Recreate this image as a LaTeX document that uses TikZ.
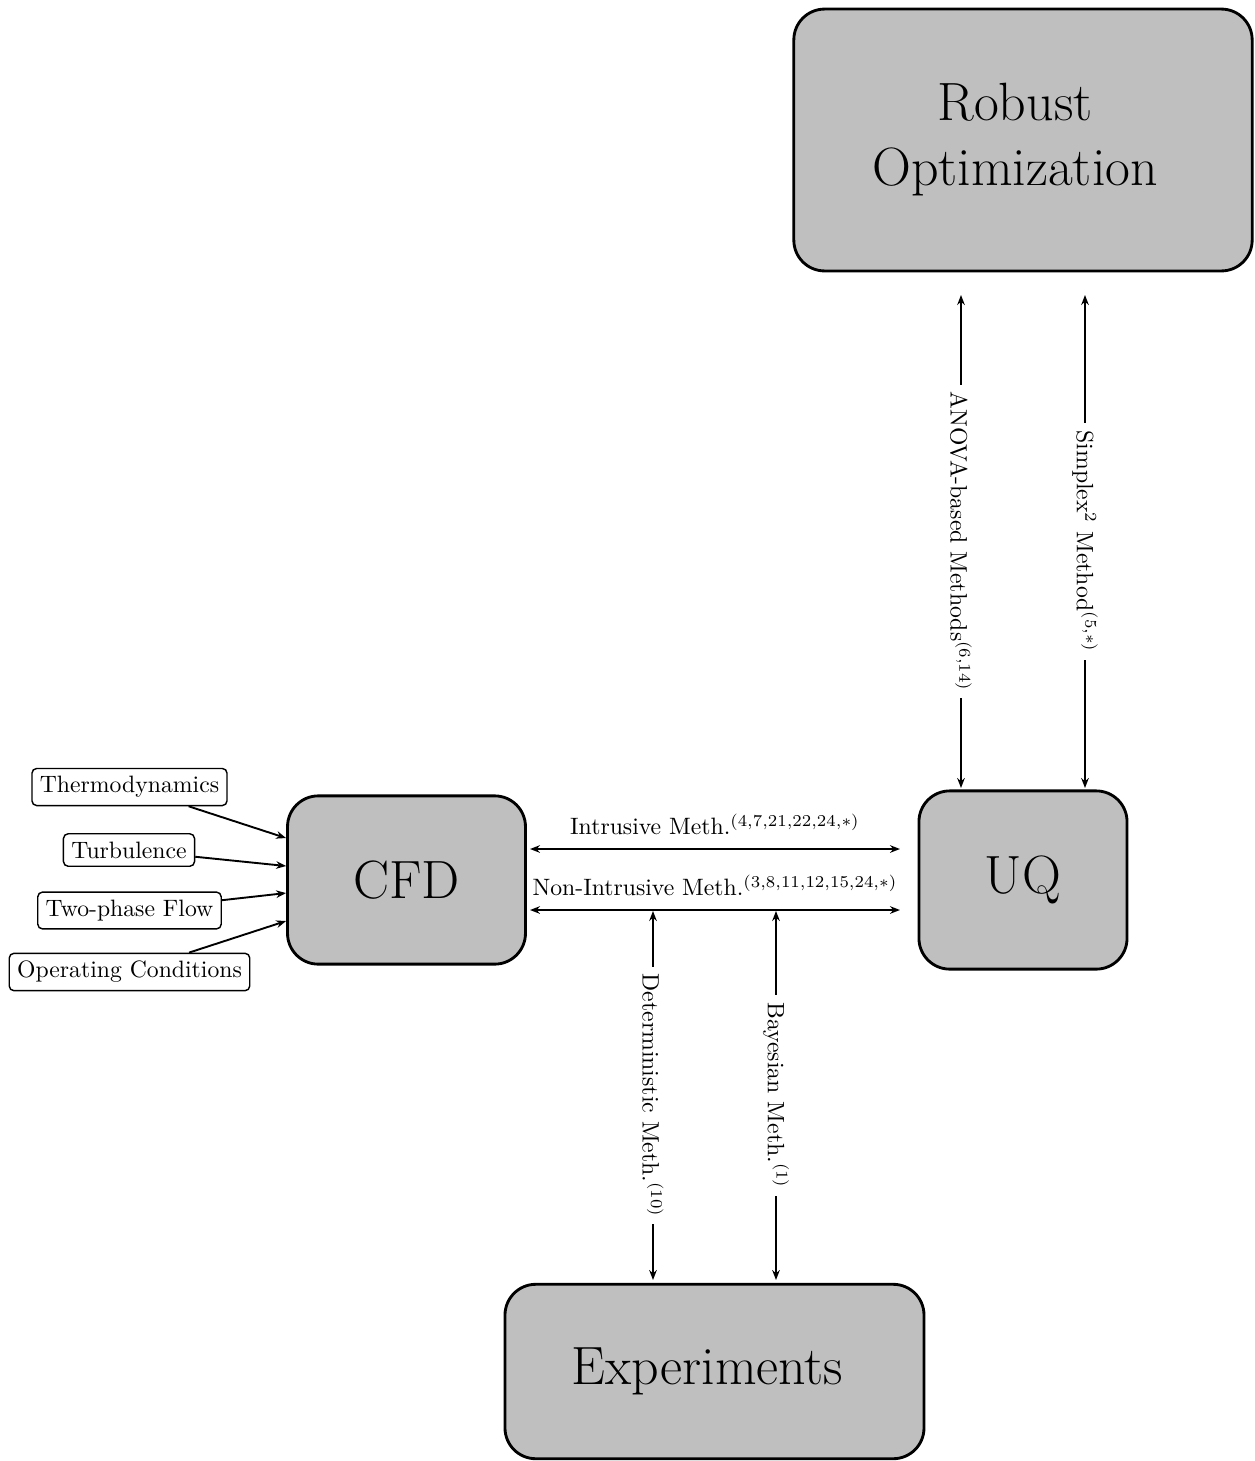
\documentclass[tikz,border=0pt]{standalone}
\usetikzlibrary{arrows.meta}
\begin{document}
\begin{tikzpicture}[x=0.42194pt,y=-0.42194pt,
  bigbox/.style={draw, very thick, fill=black!25, rounded corners=13pt, font=\fontsize{22.75pt}{27.4pt}\selectfont, align=center, inner sep=0pt},
  smallbox/.style={draw, semithick, fill=white, rounded corners=2pt},
  conn/.style={thick, -{Stealth[length=4.2pt,width=3.2pt]}},
  biconn/.style={thick, {Stealth[length=4.2pt,width=3.2pt]}-{Stealth[length=4.2pt,width=3.2pt]}},
  vlabel/.style={midway, rotate=-90, fill=white, inner sep=3pt},
  hlabel/.style={midway, above=2.2pt}
]
\useasboundingbox (0,0) rectangle (1255,1461);

% main boxes
\node[bigbox, minimum width=193.4pt, minimum height=110.5pt] (robust) at (1023,140) {Robust\hspace*{6.7pt}\\Optimization\hspace*{6.7pt}};
\node[bigbox, minimum width=100.4pt, minimum height=71pt] (cfd) at (406.5,880) {CFD};
\node[bigbox, minimum width=87.8pt, minimum height=75.2pt] (uq) at (1023,880) {UQ};
\node[bigbox, minimum width=176.8pt, minimum height=73.6pt] (exp) at (714.5,1371.5) {Experiments\hspace*{6pt}};

% input boxes
\node[smallbox] (thermo) at (129.5,787) {Thermodynamics};
\node[smallbox] (turb) at (129,850) {Turbulence};
\node[smallbox] (twop) at (129.5,910.5) {Two-phase Flow};
\node[smallbox] (oper) at (129.5,972) {Operating Conditions};

\draw[conn] (thermo) -- ([yshift=17.7pt]cfd.west);
\draw[conn] (turb) -- ([yshift=5.9pt]cfd.west);
\draw[conn] (twop) -- ([yshift=-5.5pt]cfd.west);
\draw[conn] (oper) -- ([yshift=-17.3pt]cfd.west);

% connector end points
\coordinate (iL) at (530,849);
\coordinate (iR) at (900,849);
\coordinate (nL) at (530,910);
\coordinate (nR) at (900,910);
\coordinate (aT) at (961,295);
\coordinate (aB) at (961,788);
\coordinate (sT) at (1085,295);
\coordinate (sB) at (1085,788);
\coordinate (dT) at (653,911);
\coordinate (dB) at (653,1280);
\coordinate (bT) at (776,911);
\coordinate (bB) at (776,1280);

\draw[biconn] (iL) -- node[hlabel]{Intrusive Meth.$^{(4,7,21,22,24,*)}$} (iR);
\draw[biconn] (nL) -- node[hlabel]{Non-Intrusive Meth.$^{(3,8,11,12,15,24,*)}$} (nR);

\draw[biconn] (aT) -- node[vlabel]{ANOVA-based Methods$^{(6,14)}$} (aB);
\draw[biconn] (sT) -- node[vlabel]{Simplex$^2$ Method$^{(5,*)}$} (sB);
\draw[biconn] (dT) -- node[vlabel]{Deterministic Meth.$^{(10)}$} (dB);
\draw[biconn] (bT) -- node[vlabel]{Bayesian Meth.$^{(1)}$} (bB);
\end{tikzpicture}
\end{document}
